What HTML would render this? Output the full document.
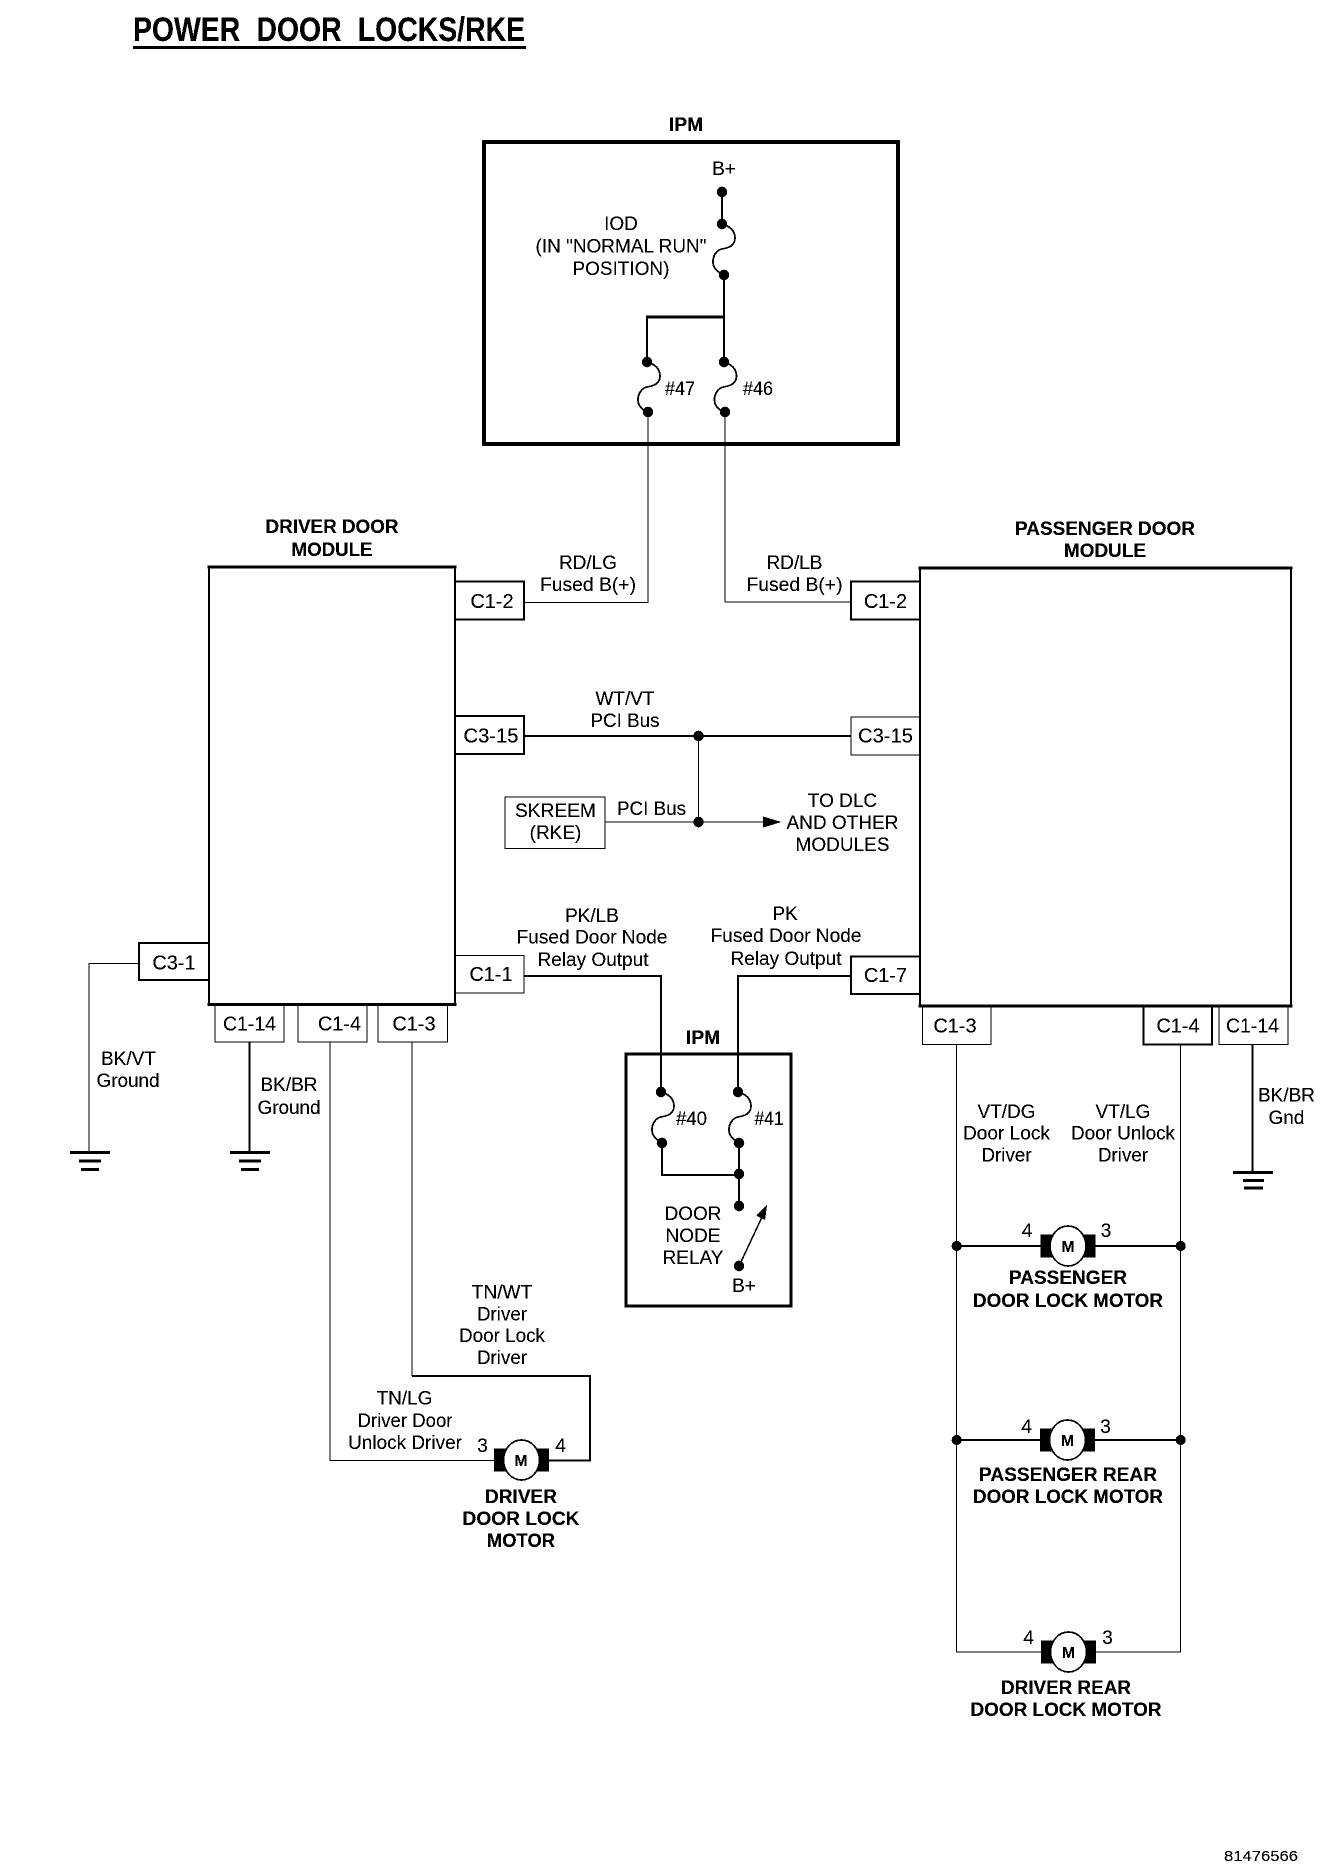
<!DOCTYPE html>
<html><head><meta charset="utf-8"><title>Power Door Locks/RKE</title>
<style>
html,body{margin:0;padding:0;background:#fff}
svg{display:block}
text{font-family:"Liberation Sans",Arial,sans-serif;font-size:19px;fill:#000;text-anchor:middle}
.b{font-weight:bold}
.c{font-size:20px}
.l{fill:none;stroke:#000;stroke-width:1;shape-rendering:crispEdges}
.m{fill:none;stroke:#000;stroke-width:2;shape-rendering:crispEdges}
.t{fill:none;stroke:#000;stroke-width:3.4;shape-rendering:crispEdges}
.box{fill:#fff;stroke:#000;stroke-width:1;shape-rendering:crispEdges}
.g{stroke:#000;fill:none;shape-rendering:crispEdges}
</style></head><body>
<svg xmlns="http://www.w3.org/2000/svg" width="1344" height="1872" viewBox="0 0 1344 1872">
<defs>
<filter id="bw" filterUnits="userSpaceOnUse" x="0" y="0" width="1344" height="1872" color-interpolation-filters="sRGB">
<feComponentTransfer><feFuncR type="discrete" tableValues="0 0 1"/><feFuncG type="discrete" tableValues="0 0 1"/><feFuncB type="discrete" tableValues="0 0 1"/></feComponentTransfer>
</filter>
<path id="fuse" d="M0,0 C8,2 13,7 13,14 C13,22 6,24 0,25 C-5,26 -9,31 -9,38 C-9,44 -4,49 2,50" fill="none" stroke="#000" stroke-width="1.6"/>
<g id="motor"><rect x="-27" y="-11.5" width="13" height="23" fill="#000"/><rect x="15" y="-11.5" width="13" height="23" fill="#000"/><ellipse cx="0.5" cy="0" rx="18" ry="20" fill="#fff" stroke="#000" stroke-width="1.6"/></g>
</defs>
<rect width="1344" height="1872" fill="#fff"/>
<g filter="url(#bw)">
<rect width="1344" height="1872" fill="#fff"/>

<!-- Title -->
<text x="329" y="41" class="b" style="font-size:34px;word-spacing:10px" textLength="392" lengthAdjust="spacingAndGlyphs">POWER DOOR LOCKS/RKE</text>
<rect x="133" y="46" width="393" height="3" fill="#000"/>

<!-- Top IPM -->
<text x="686" y="131" class="b" textLength="34" lengthAdjust="spacingAndGlyphs">IPM</text>
<rect x="484" y="142" width="414" height="302" fill="none" stroke="#000" stroke-width="3.4"/>
<text x="724" y="175">B+</text>
<path class="m" d="M722,192V224M724,275V362"/>
<path class="t" d="M646,317H724"/>
<path class="m" d="M647,317V362"/>
<use href="#fuse" transform="translate(722,224)"/>
<use href="#fuse" transform="translate(647,362)"/>
<use href="#fuse" transform="translate(723.5,362)"/>
<g fill="#000"><circle cx="722" cy="192" r="5.2"/><circle cx="722" cy="224" r="5.2"/><circle cx="724" cy="275" r="5.2"/><circle cx="647" cy="362" r="5.2"/><circle cx="724" cy="362" r="5.2"/><circle cx="648" cy="412" r="5.2"/><circle cx="725" cy="412" r="5.2"/></g>
<text x="621" y="230">IOD</text>
<text x="621" y="252.5" textLength="171" lengthAdjust="spacingAndGlyphs">(IN "NORMAL RUN"</text>
<text x="621" y="275" textLength="97" lengthAdjust="spacingAndGlyphs">POSITION)</text>
<text x="680" y="395" textLength="30" lengthAdjust="spacingAndGlyphs">#47</text>
<text x="758" y="395" textLength="30" lengthAdjust="spacingAndGlyphs">#46</text>

<!-- Feed wires -->
<path class="l" d="M648,412V602.5H524"/>
<path class="l" d="M725,412V602H851"/>
<text x="588" y="569">RD/LG</text>
<text x="588" y="591" textLength="96" lengthAdjust="spacingAndGlyphs">Fused B(+)</text>
<text x="794.5" y="569">RD/LB</text>
<text x="794.5" y="591" textLength="96" lengthAdjust="spacingAndGlyphs">Fused B(+)</text>

<!-- Modules -->
<text x="332" y="533" class="b" textLength="133" lengthAdjust="spacingAndGlyphs">DRIVER DOOR</text>
<text x="332" y="556" class="b" textLength="81" lengthAdjust="spacingAndGlyphs">MODULE</text>
<path class="g" stroke-width="2.4" d="M209,567V1004.5M455,567V1004.5"/>
<path class="t" d="M207.5,567H456.5M207.5,1004.5H456.5"/>
<text x="1105" y="535" class="b" textLength="180" lengthAdjust="spacingAndGlyphs">PASSENGER DOOR</text>
<text x="1105" y="557" class="b" textLength="82" lengthAdjust="spacingAndGlyphs">MODULE</text>
<path class="g" stroke-width="2.4" d="M920,568V1006M1291,568V1006"/>
<path class="t" d="M918.5,568H1292.5M918.5,1006H1292.5"/>

<!-- Side connectors -->
<path class="m" d="M455,581.5H524V619.5H455"/>
<text x="492" y="608" class="c">C1-2</text>
<path class="m" d="M920,581.5H851V619.5H920"/>
<text x="885.5" y="608" class="c">C1-2</text>
<path class="m" d="M455,716H524V754H455"/>
<text x="491" y="742.5" class="c" textLength="55" lengthAdjust="spacingAndGlyphs">C3-15</text>
<path class="l" d="M920,717H851V755H920"/>
<text x="885.5" y="742.5" class="c" textLength="55" lengthAdjust="spacingAndGlyphs">C3-15</text>
<path class="l" d="M455,955.5H524V993H455"/>
<text x="491" y="981" class="c">C1-1</text>
<path class="m" d="M920,956.5H851V994H920"/>
<text x="885.5" y="982" class="c">C1-7</text>
<path class="m" d="M208,943H139V980H208"/>
<text x="174" y="969.5" class="c">C3-1</text>

<!-- Bus -->
<path class="m" d="M524,736H851"/>
<path class="l" d="M698.5,736V822M605,822H765"/>
<path d="M763,816.5L781,822L763,827.5Z" fill="#000"/>
<circle cx="698.5" cy="736" r="5.2" fill="#000"/>
<circle cx="698.5" cy="822" r="5.2" fill="#000"/>
<rect x="505" y="797" width="100" height="51.5" class="box"/>
<text x="555.5" y="817" textLength="81" lengthAdjust="spacingAndGlyphs">SKREEM</text>
<text x="555.5" y="839">(RKE)</text>
<text x="651.5" y="815" textLength="69" lengthAdjust="spacingAndGlyphs">PCI Bus</text>
<text x="625" y="705">WT/VT</text>
<text x="625" y="727" textLength="69" lengthAdjust="spacingAndGlyphs">PCI Bus</text>
<text x="842.5" y="807">TO DLC</text>
<text x="842.5" y="829" textLength="112" lengthAdjust="spacingAndGlyphs">AND OTHER</text>
<text x="842.5" y="851" textLength="94" lengthAdjust="spacingAndGlyphs">MODULES</text>

<!-- Output labels -->
<text x="592" y="922">PK/LB</text>
<text x="592" y="943.5" textLength="151" lengthAdjust="spacingAndGlyphs">Fused Door Node</text>
<text x="593" y="966" textLength="111" lengthAdjust="spacingAndGlyphs">Relay Output</text>
<text x="785" y="920">PK</text>
<text x="786" y="942" textLength="151" lengthAdjust="spacingAndGlyphs">Fused Door Node</text>
<text x="786" y="965" textLength="111" lengthAdjust="spacingAndGlyphs">Relay Output</text>

<!-- Lower IPM -->
<path class="m" d="M524,976H661V1092"/>
<path class="m" d="M851,976H738V1092"/>
<text x="703" y="1044" class="b" textLength="34" lengthAdjust="spacingAndGlyphs">IPM</text>
<rect x="626" y="1054" width="165" height="252" fill="none" stroke="#000" stroke-width="3"/>
<use href="#fuse" transform="translate(661,1092)"/>
<use href="#fuse" transform="translate(738,1092)"/>
<path class="m" d="M662,1143V1175H739M739,1143V1206"/>
<g fill="#000"><circle cx="661" cy="1092" r="5.2"/><circle cx="662" cy="1143" r="5.2"/><circle cx="738" cy="1092" r="5.2"/><circle cx="739" cy="1143" r="5.2"/><circle cx="739" cy="1174" r="5.2"/><circle cx="739" cy="1206" r="5.2"/><circle cx="739" cy="1266" r="5.2"/></g>
<path fill="none" stroke="#000" stroke-width="1.4" d="M740,1264L762,1217"/>
<path d="M767,1205L756.5,1215.5L765,1220Z" fill="#000"/>
<text x="691.5" y="1125" textLength="31" lengthAdjust="spacingAndGlyphs">#40</text>
<text x="769" y="1125" textLength="29" lengthAdjust="spacingAndGlyphs">#41</text>
<text x="693" y="1220">DOOR</text>
<text x="693" y="1242">NODE</text>
<text x="693" y="1264">RELAY</text>
<text x="744" y="1292">B+</text>

<!-- Bottom connectors driver -->
<path class="l" d="M215,1006V1042H284V1006"/>
<text x="249.5" y="1030.5" class="c" textLength="53" lengthAdjust="spacingAndGlyphs">C1-14</text>
<path class="l" d="M298,1006V1042H367V1006"/>
<text x="339.5" y="1030.5" class="c">C1-4</text>
<path class="l" d="M378,1006V1042H447.5V1006"/>
<text x="414" y="1030.5" class="c">C1-3</text>

<!-- Grounds -->
<path class="l" d="M139,963.5H89V1152"/>
<path class="g" stroke-width="2.6" d="M70,1152.5H110M79,1161H101M81,1169.5H99"/>
<text x="128.5" y="1065">BK/VT</text>
<text x="128" y="1087" textLength="63" lengthAdjust="spacingAndGlyphs">Ground</text>
<path class="m" d="M249.5,1042V1152"/>
<path class="g" stroke-width="2.6" d="M230,1152.5H270M239,1161H261M241,1169.5H259"/>
<text x="289" y="1091">BK/BR</text>
<text x="289" y="1114" textLength="63" lengthAdjust="spacingAndGlyphs">Ground</text>

<!-- Driver motor -->
<path class="l" d="M330,1042V1460.5H495"/>
<path class="l" d="M412,1042V1376"/>
<path class="m" d="M412,1376H590V1460.5H548"/>
<use href="#motor" transform="translate(521,1460)"/>
<text x="521" y="1466" class="b" style="font-size:16px">M</text>
<text x="482.5" y="1452">3</text>
<text x="560.5" y="1452">4</text>
<text x="502" y="1298.5">TN/WT</text>
<text x="502" y="1320.5" textLength="50" lengthAdjust="spacingAndGlyphs">Driver</text>
<text x="502" y="1342" textLength="86" lengthAdjust="spacingAndGlyphs">Door Lock</text>
<text x="502" y="1364" textLength="50" lengthAdjust="spacingAndGlyphs">Driver</text>
<text x="404.5" y="1404.5">TN/LG</text>
<text x="405" y="1427" textLength="95" lengthAdjust="spacingAndGlyphs">Driver Door</text>
<text x="405" y="1449" textLength="114" lengthAdjust="spacingAndGlyphs">Unlock Driver</text>
<text x="521" y="1503" class="b" textLength="72" lengthAdjust="spacingAndGlyphs">DRIVER</text>
<text x="521" y="1525" class="b" textLength="117" lengthAdjust="spacingAndGlyphs">DOOR LOCK</text>
<text x="521" y="1547" class="b" textLength="68" lengthAdjust="spacingAndGlyphs">MOTOR</text>

<!-- Passenger bottom connectors -->
<path class="l" d="M922.5,1007V1044.5H991V1007"/>
<text x="955" y="1032.5" class="c">C1-3</text>
<path class="m" d="M1143.5,1007V1044.5H1212V1007"/>
<text x="1178" y="1032.5" class="c">C1-4</text>
<path class="l" d="M1219,1007V1044.5H1288V1007"/>
<text x="1252.5" y="1032.5" class="c" textLength="53" lengthAdjust="spacingAndGlyphs">C1-14</text>
<path class="m" d="M1252.5,1044.5V1172"/>
<path class="g" stroke-width="2.6" d="M1233,1172.5H1273M1243,1180.5H1264M1244,1188H1263"/>
<text x="1286.5" y="1101.5">BK/BR</text>
<text x="1286.5" y="1124">Gnd</text>
<text x="1006.5" y="1118">VT/DG</text>
<text x="1006.5" y="1139.5" textLength="87" lengthAdjust="spacingAndGlyphs">Door Lock</text>
<text x="1006.5" y="1161.5" textLength="50" lengthAdjust="spacingAndGlyphs">Driver</text>
<text x="1123" y="1118">VT/LG</text>
<text x="1123" y="1139.5" textLength="104" lengthAdjust="spacingAndGlyphs">Door Unlock</text>
<text x="1123" y="1161.5" textLength="50" lengthAdjust="spacingAndGlyphs">Driver</text>

<!-- Passenger motor rail -->
<path class="l" d="M956.7,1044.5V1652H1180.7V1044.5"/>
<path class="m" d="M956.7,1246H1181M956.7,1440H1181"/>
<g fill="#000"><circle cx="956.7" cy="1246" r="5"/><circle cx="1180.7" cy="1246" r="5"/><circle cx="956.7" cy="1440" r="5"/><circle cx="1180.7" cy="1440" r="5"/></g>

<use href="#motor" transform="translate(1067.5,1246)"/>
<text x="1068" y="1252" class="b" style="font-size:16px">M</text>
<text x="1027" y="1237">4</text>
<text x="1106" y="1237">3</text>
<text x="1068" y="1284" class="b" textLength="118" lengthAdjust="spacingAndGlyphs">PASSENGER</text>
<text x="1068" y="1307" class="b" textLength="190" lengthAdjust="spacingAndGlyphs">DOOR LOCK MOTOR</text>

<use href="#motor" transform="translate(1067,1440)"/>
<text x="1067.5" y="1446" class="b" style="font-size:16px">M</text>
<text x="1026.5" y="1433">4</text>
<text x="1105.5" y="1433">3</text>
<text x="1068" y="1481" class="b" textLength="178" lengthAdjust="spacingAndGlyphs">PASSENGER REAR</text>
<text x="1068" y="1503" class="b" textLength="190" lengthAdjust="spacingAndGlyphs">DOOR LOCK MOTOR</text>

<use href="#motor" transform="translate(1068,1652)"/>
<text x="1068.5" y="1658" class="b" style="font-size:16px">M</text>
<text x="1028.5" y="1644">4</text>
<text x="1107.5" y="1644">3</text>
<text x="1066" y="1694" class="b" textLength="130" lengthAdjust="spacingAndGlyphs">DRIVER REAR</text>
<text x="1066" y="1716" class="b" textLength="191" lengthAdjust="spacingAndGlyphs">DOOR LOCK MOTOR</text>

<text x="1261" y="1861" style="font-size:15px" textLength="74" lengthAdjust="spacingAndGlyphs">81476566</text>
</g>
</svg>
</body></html>
